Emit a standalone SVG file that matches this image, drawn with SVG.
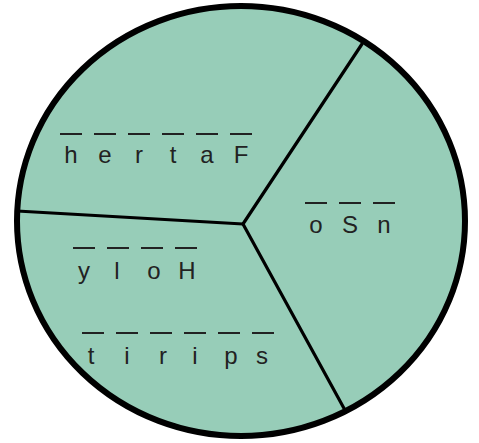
<svg xmlns="http://www.w3.org/2000/svg" width="479" height="443" viewBox="0 0 479 443">
<style>
.t{font-family:"Liberation Sans",Arial,sans-serif;font-size:24px;fill:#222;text-anchor:middle}
.d{stroke:#222;stroke-width:2}
.e{stroke:#000;stroke-width:3.2;fill:none;stroke-linecap:round}
</style>
<defs><path id="dash" d="M-11 0H11"/></defs>
<g id="disc"><ellipse cx="241" cy="221" rx="224" ry="215" fill="#97cdb8" stroke="#000" stroke-width="6"/></g>
<g id="connectors">
<path class="e" d="M243 224L362 44"/>
<path class="e" d="M243 224L17 211"/>
<path class="e" d="M243 224L346 412"/>
</g>
<g id="father">
<g class="d"><use href="#dash" x="71" y="134"/><use href="#dash" x="105" y="134"/><use href="#dash" x="139" y="134"/><use href="#dash" x="173" y="134"/><use href="#dash" x="207" y="134"/><use href="#dash" x="241" y="134"/></g>
<text class="t" y="163"><tspan x="71">h</tspan><tspan x="105">e</tspan><tspan x="139">r</tspan><tspan x="173">t</tspan><tspan x="207">a</tspan><tspan x="241">F</tspan></text>
</g>
<g id="son">
<g class="d"><use href="#dash" x="316" y="203"/><use href="#dash" x="350" y="203"/><use href="#dash" x="384" y="203"/></g>
<text class="t" y="233"><tspan x="316">o</tspan><tspan x="350">S</tspan><tspan x="384">n</tspan></text>
</g>
<g id="holy">
<g class="d"><use href="#dash" x="84" y="248"/><use href="#dash" x="118" y="248"/><use href="#dash" x="152" y="248"/><use href="#dash" x="186" y="248"/></g>
<text class="t" y="279"><tspan x="84">y</tspan><tspan x="117">l</tspan><tspan x="154">o</tspan><tspan x="187">H</tspan></text>
</g>
<g id="spirit">
<g class="d"><use href="#dash" x="93" y="333"/><use href="#dash" x="127" y="333"/><use href="#dash" x="161" y="333"/><use href="#dash" x="195" y="333"/><use href="#dash" x="229" y="333"/><use href="#dash" x="263" y="333"/></g>
<text class="t" y="364"><tspan x="91">t</tspan><tspan x="127">i</tspan><tspan x="163">r</tspan><tspan x="195">i</tspan><tspan x="231">p</tspan><tspan x="262">s</tspan></text>
</g>
</svg>
